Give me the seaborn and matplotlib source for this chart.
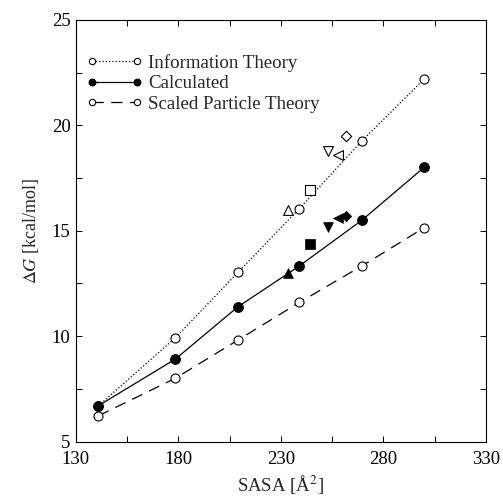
import matplotlib
matplotlib.use("Agg")
import matplotlib.pyplot as plt
import seaborn as sns
import pandas as pd

sns.set_theme(style="ticks")
plt.rcParams['font.family'] = ['Liberation Serif', 'DejaVu Serif']
plt.rcParams['mathtext.fontset'] = 'stix'

sasa = [141, 178.5, 209, 239, 269.5, 300]
info_theory = [6.7, 9.92, 13.02, 16.05, 19.26, 22.21]
calculated = [6.7, 8.91, 11.39, 13.33, 15.5, 18.02]
scaled_particle = [6.22, 8.0, 9.81, 11.6, 13.33, 15.15]

extra_x = [233.6, 244, 253, 258, 261.6]
extra_open_y = [16.0, 16.95, 18.8, 18.6, 19.5]
extra_filled_y = [13.0, 14.36, 15.18, 15.62, 15.70]
extra_markers = ['^', 's', 'v', '<', 'D']

xticks = [130, 180, 230, 280, 330]
yticks = [5, 10, 15, 20, 25]

fig = plt.figure(figsize=(5.03, 5.0), dpi=100)
ax = fig.add_axes([0.151, 0.117, 0.815, 0.843])

df = pd.DataFrame({'SASA': sasa, 'IT': info_theory, 'CA': calculated, 'SPT': scaled_particle})

sns.lineplot(data=df, x='SASA', y='IT', ax=ax, color='black', linestyle=':', lw=0.9,
             marker='o', markersize=6.5, markerfacecolor='white', markeredgecolor='black',
             markeredgewidth=0.8, label='Information Theory')
sns.lineplot(data=df, x='SASA', y='CA', ax=ax, color='black', linestyle='-', lw=0.9,
             marker='o', markersize=7, markerfacecolor='black', markeredgecolor='black',
             label='Calculated')
sns.lineplot(data=df, x='SASA', y='SPT', ax=ax, color='black', linestyle=(0, (9, 6)), lw=0.9,
             marker='o', markersize=6.5, markerfacecolor='white', markeredgecolor='black',
             markeredgewidth=0.8, label='Scaled Particle Theory')

for xv, yo, yf, m in zip(extra_x, extra_open_y, extra_filled_y, extra_markers):
    ms = 50 if m != 'D' else 28
    sns.scatterplot(x=[xv], y=[yo], ax=ax, marker=m, s=ms, facecolor='white',
                    edgecolor='black', linewidth=0.8, legend=False, zorder=5)
    sns.scatterplot(x=[xv], y=[yf], ax=ax, marker=m, s=ms, color='black',
                    edgecolor='black', linewidth=0.5, legend=False, zorder=5)

ax.set_xlim(130, 330)
ax.set_ylim(5, 25)
ax.set_xticks(xticks)
ax.set_yticks(yticks)
ax.set_xticks([155, 205, 255, 305], minor=True)
ax.set_yticks([7.5, 12.5, 17.5, 22.5], minor=True)
ax.tick_params(which='both', direction='in', top=True, right=True, length=4, width=0.7,
               labelsize=13.5, colors='black')
ax.tick_params(axis='x', pad=7)
ax.tick_params(axis='y', pad=4)
for s in ax.spines.values():
    s.set_linewidth(0.8)
    s.set_color('black')
ax.set_xlabel(r'SASA [Å$^2$]', fontsize=13.5, labelpad=4)
ax.set_ylabel(r'$\Delta G$ [kcal/mol]', fontsize=13, labelpad=8)

leg = ax.legend(loc='upper left', frameon=False, fontsize=13.6, handlelength=2.98,
                numpoints=2, handletextpad=0.28, labelspacing=0.17,
                bbox_to_anchor=(0.025, 0.919), borderaxespad=0, borderpad=0,
                markerscale=0.7)

fig.savefig('out.png', dpi=100)
